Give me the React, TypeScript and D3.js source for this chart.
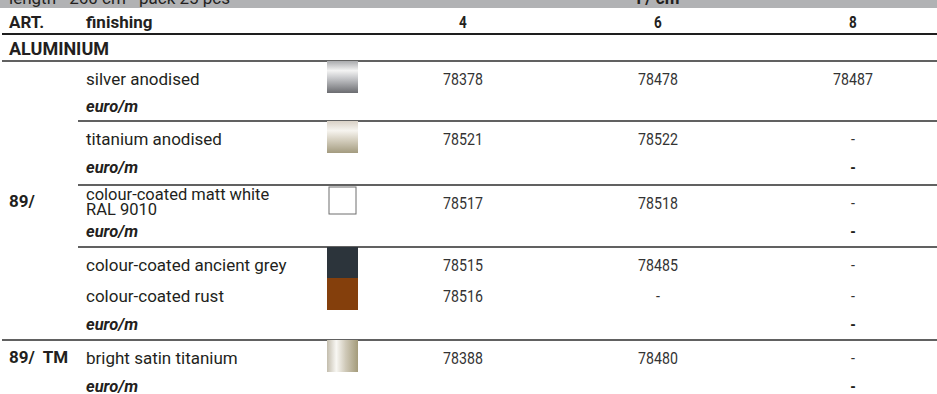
import React from "react";
import * as d3 from "d3";

const W = 937;
const H = 394;

const bandLeft = "length - 260 cm - pack 25 pcs";
const bandCenter = "l / cm";
const headerCols = ["4", "6", "8"];
const sectionLabel = "ALUMINIUM";

// groups of finishes (separated by a rule line)
const groupArticle = ["", "", "89/", "", "89/  TM"];
const groupFinishes = [
  ["silver anodised"],
  ["titanium anodised"],
  ["colour-coated matt white\nRAL 9010"],
  ["colour-coated ancient grey", "colour-coated rust"],
  ["bright satin titanium"],
];
const groupSwatch = [["silver"], ["titanium"], ["white"], ["grey", "rust"], ["satin"]];
const code4 = [["78378"], ["78521"], ["78517"], ["78515", "78516"], ["78388"]];
const code6 = [["78478"], ["78522"], ["78518"], ["78485", "-"], ["78480"]];
const code8 = [["78487"], ["-"], ["-"], ["-", "-"], ["-"]];
const euro8 = ["", "-", "-", "-", "-"];
const euroLabel = "euro/m";

// layout (pixel geometry)
const groupTop = [61, 121, 185, 247, 340];
const rowPitch = 31;
const euroOffset = [51, 52, 52, 83, 52];

const TEXT = "Roboto, 'Liberation Sans', sans-serif";
const INK = "#231f20";

function Narrow(props: { x: number; y: number; text: string; bold?: boolean; size?: number; fill?: string }) {
  const { x, y, text, bold, size = 17.3, fill = "#333" } = props;
  return (
    <text
      transform={`translate(${x},${y}) scale(0.82,1)`}
      fill={fill}
      fontFamily={TEXT}
      fontSize={size}
      fontWeight={bold ? "bold" : "normal"}
      textAnchor="middle"
    >
      {text}
    </text>
  );
}

export default function App() {
  const colX = d3.scalePoint<string>().domain(headerCols).range([463, 853]);
  const fullX0 = 2;
  const innerX0 = 78;
  const textX = 86;
  const swX = 327;
  const swW = 31;

  const swatch = (kind: string, y: number, key: string) => {
    if (kind === "white")
      return (
        <rect key={key} x={swX + 2} y={y + 2} width={swW - 4} height={rowPitch - 4} fill="#fff" stroke="#6f6f6f" strokeWidth={1} />
      );
    const fill =
      kind === "silver" ? "url(#gSilver)" : kind === "titanium" ? "url(#gTitan)" : kind === "satin" ? "url(#gSatin)" : kind === "grey" ? "#2c343b" : "#843f0c";
    return <rect key={key} x={swX} y={y} width={swW} height={rowPitch + 1} fill={fill} />;
  };

  return (
    <div style={{ position: "absolute", left: 0, top: 0 }}>
      <svg width={W} height={H} style={{ display: "block" }}>
        <defs>
          <linearGradient id="gSilver" x1="0" y1="0" x2="0" y2="1">
            <stop offset="0" stopColor="#a9aaad" />
            <stop offset="0.3" stopColor="#f3f3f3" />
            <stop offset="0.55" stopColor="#c4c5c8" />
            <stop offset="1" stopColor="#6b6c70" />
          </linearGradient>
          <linearGradient id="gTitan" x1="0" y1="0" x2="0" y2="1">
            <stop offset="0" stopColor="#d9d1c6" />
            <stop offset="0.3" stopColor="#f6f4ef" />
            <stop offset="0.6" stopColor="#d4cebe" />
            <stop offset="1" stopColor="#a39b7f" />
          </linearGradient>
          <linearGradient id="gSatin" x1="0" y1="0" x2="1" y2="0">
            <stop offset="0" stopColor="#c3bdad" />
            <stop offset="0.3" stopColor="#f8f7f3" />
            <stop offset="0.6" stopColor="#cfc9b8" />
            <stop offset="1" stopColor="#a49b7a" />
          </linearGradient>
          <clipPath id="band">
            <rect x={0} y={0} width={W} height={8} />
          </clipPath>
        </defs>

        {/* top band */}
        <rect x={0} y={0} width={W} height={8} fill="#b1b2b4" />
        <g clipPath="url(#band)" fill={INK}>
          <text x={9} y={4} fontFamily={TEXT} fontSize={17}>{bandLeft}</text>
          <text x={colX("6")} y={4} fontFamily={TEXT} fontSize={17} fontWeight="bold" textAnchor="middle">{bandCenter}</text>
        </g>

        {/* header */}
        <g fill={INK} fontFamily={TEXT} fontWeight="bold" fontSize={17}>
          <text x={9} y={28}>ART.</text>
          <text x={textX} y={28}>finishing</text>
        </g>
        {headerCols.map((c) => (
          <Narrow key={c} x={colX(c)!} y={28} text={c} bold size={16.5} fill={INK} />
        ))}
        <line x1={fullX0} x2={W} y1={34} y2={34} stroke="#1e1e1e" strokeWidth={2} />
        <text x={9} y={55} fill={INK} fontFamily={TEXT} fontWeight="bold" fontSize={18}>{sectionLabel}</text>

        {groupFinishes.map((rows, g) => {
          const top = groupTop[g];
          const full = g === 0 || g === 4;
          return (
            <g key={g}>
              <line x1={full ? fullX0 : innerX0} x2={W} y1={top} y2={top} stroke="#616161" strokeWidth={2} />
              {rows.map((name, i) => {
                const y = top + i * rowPitch;
                const lines = name.split("\n");
                const base = lines.length > 1 ? y + 15 : y + 24;
                return (
                  <g key={i}>
                    {swatch(groupSwatch[g][i], y, `s${i}`)}
                    <text x={textX} y={base} fill={INK} fontFamily={TEXT} fontSize={lines.length > 1 ? 16.5 : 17}>
                      {lines.map((l, k) => (
                        <tspan key={k} x={textX} dy={k === 0 ? 0 : 14.5}>{l}</tspan>
                      ))}
                    </text>
                    {[code4, code6, code8].map((col, c) => (
                      <Narrow key={c} x={colX(headerCols[c])!} y={y + 24} text={col[g][i]} />
                    ))}
                  </g>
                );
              })}
              <text x={textX} y={top + euroOffset[g]} fill={INK} fontFamily={TEXT} fontSize={16.5} fontWeight="bold" fontStyle="italic">{euroLabel}</text>
              <Narrow x={colX("8")!} y={top + euroOffset[g]} text={euro8[g]} bold fill={INK} />
              {groupArticle[g] && (
                <text x={9} y={g === 2 ? 207 : top + 23} fill={INK} fontFamily={TEXT} fontSize={17} fontWeight="bold" xmlSpace="preserve">{groupArticle[g]}</text>
              )}
            </g>
          );
        })}
      </svg>
    </div>
  );
}
